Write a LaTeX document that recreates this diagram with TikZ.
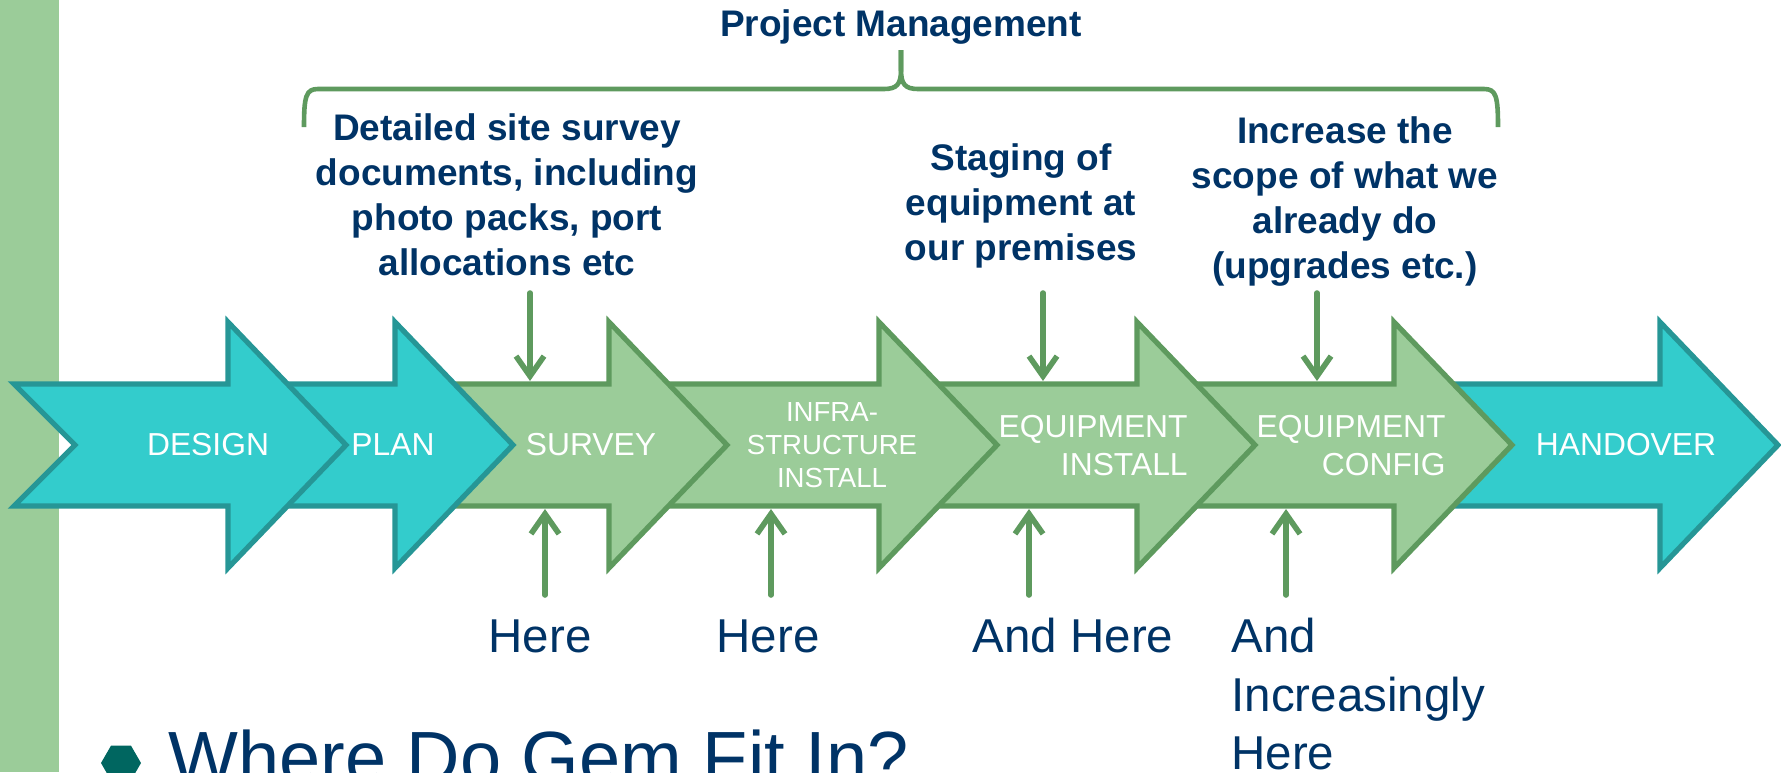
\documentclass[tikz,border=0pt]{standalone}
\usepackage{fontspec}
\setmainfont{Liberation Sans}
\usetikzlibrary{arrows.meta}
\definecolor{tealfill}{RGB}{51,204,204}
\definecolor{tealline}{RGB}{38,150,150}
\definecolor{greenfill}{RGB}{155,204,153}
\definecolor{greenline}{RGB}{94,154,94}
\definecolor{navy}{RGB}{0,51,102}
\definecolor{bulletteal}{RGB}{0,102,96}

% one chevron stage: left x, tip x, style
\newcommand{\stagearrow}[3]{%
  \draw[#3] (#1,384) -- (#2-118,384) -- (#2-118,322) -- (#2,445)
    -- (#2-118,568) -- (#2-118,506) -- (#1,506) -- (#1+61,445) -- cycle;}

\begin{document}
\begin{tikzpicture}[x=0.5pt,y=-0.5pt,
  tealstage/.style={fill=tealfill,draw=tealline,line width=2.6pt},
  greenstage/.style={fill=greenfill,draw=greenline,line width=2.6pt},
  stagetext/.style={text=white,inner sep=0,align=center,font=\fontsize{15.9}{19}\selectfont},
  notetext/.style={text=navy,inner sep=0,align=center,font=\bfseries\fontsize{18.5}{22.5}\selectfont},
  heretext/.style={text=navy,inner sep=0,font=\fontsize{23.75}{29.25}\selectfont},
  pointer/.style={draw=greenline,line width=2.8pt,line cap=round,-{Straight Barb[length=10pt,width=14pt]}},
  pmbrace/.style={draw=greenline,line width=2.3pt}]
\useasboundingbox (0,0) rectangle (1781,772);
\clip (0,0) rectangle (1781,772);

\fill[greenfill] (0,0) rectangle (59,772);

% stages, right to left so each head lies on the next body
\stagearrow{1437}{1778}{tealstage}
\stagearrow{1180}{1512}{greenstage}
\stagearrow{922}{1255}{greenstage}
\stagearrow{652}{997}{greenstage}
\stagearrow{438}{727}{greenstage}
\stagearrow{271}{513}{tealstage}
\stagearrow{14}{346}{tealstage}

\node[stagetext] (design) at (208,445) {DESIGN};
\node[stagetext] (plan) at (393,445) {PLAN};
\node[stagetext] (survey) at (591,445) {SURVEY};
\node[stagetext,font=\fontsize{13.8}{16.5}\selectfont] (infra) at (832,445) {INFRA-\\STRUCTURE\\INSTALL};
\node[stagetext,align=right,anchor=east] (eqinstall) at (1188,446) {EQUIPMENT\\INSTALL};
\node[stagetext,align=right,anchor=east] (eqconfig) at (1446,446) {EQUIPMENT\\CONFIG};
\node[stagetext] (handover) at (1626,445) {HANDOVER};

% project management brace
\node[notetext,anchor=base] (pm) at (901,36) {Project Management};
\draw[pmbrace] (304,127) .. controls (304,96) and (306,89) .. (318,89) -- (884,89)
  .. controls (897,89) and (901,84) .. (901,70) -- (901,50);
\draw[pmbrace] (901,50) -- (901,70) .. controls (901,84) and (905,89) .. (918,89)
  -- (1484,89) .. controls (1496,89) and (1498,96) .. (1498,127);

\node[notetext,anchor=north] (sitedocs) at (507,113) {Detailed site survey\\documents, including\\photo packs, port\\allocations etc};
\node[notetext,anchor=north] (staging) at (1021,143) {Staging of\\equipment at\\our premises};
\node[notetext,anchor=north] (scope) at (1345,116) {Increase the\\scope of what we\\already do\\(upgrades etc.)};

\foreach \x [count=\i] in {530,1043,1317} {
  \coordinate (top\i) at (\x,293);
  \coordinate (topend\i) at (\x,381);
  \draw[pointer] (top\i) -- (topend\i);
}
\foreach \x [count=\i] in {545,771,1029,1286} {
  \coordinate (low\i) at (\x,595);
  \coordinate (lowend\i) at (\x,509);
  \draw[pointer] (low\i) -- (lowend\i);
}

\node[heretext,anchor=base] (here1) at (540,652) {Here};
\node[heretext,anchor=base] (here2) at (768,652) {Here};
\node[heretext,anchor=base] (here3) at (1073,652) {And Here};
\node[heretext,anchor=north west,align=left] (here4) at (1231,618) {And\\Increasingly\\Here};

% bullet and heading
\fill[bulletteal] (121,763) +(0:20) -- +(60:20) -- +(120:20) -- +(180:20) -- +(240:20) -- +(300:20) -- cycle;
\node[heretext,anchor=base west,font=\fontsize{37}{44}\selectfont] (title) at (168,783) {Where Do Gem Fit In?};
\end{tikzpicture}
\end{document}
